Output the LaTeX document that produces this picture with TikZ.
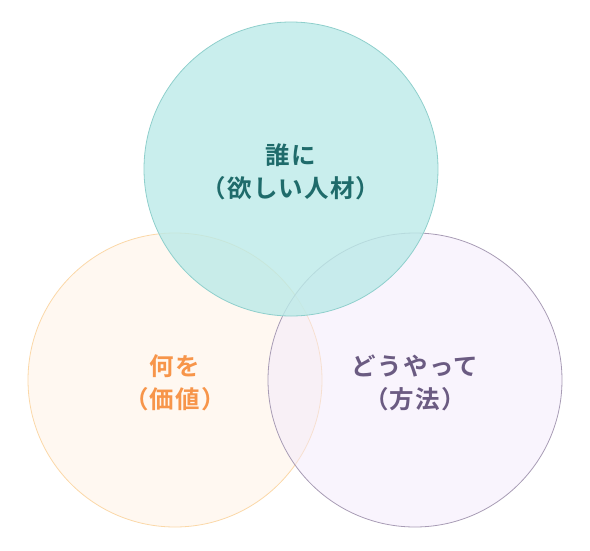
\documentclass[tikz,border=0pt]{standalone}
\usepackage{fontspec}
\usepackage{xcolor}
\usepackage{tikz}
\setmainfont{Noto Sans CJK JP}[BoldFont={* Bold}]
\definecolor{whoFill}{HTML}{BBEAE8}
\definecolor{whoLine}{HTML}{8FCFCC}
\definecolor{whoText}{HTML}{1F6B6B}
\definecolor{whatFill}{HTML}{FFF8F1}
\definecolor{whatLine}{HTML}{FBD8A8}
\definecolor{whatText}{HTML}{F7954A}
\definecolor{howFill}{HTML}{F3E9FB}
\definecolor{howLine}{HTML}{A89CB5}
\definecolor{howText}{HTML}{6B5B82}

\begin{document}
\begin{tikzpicture}[
    x=1pt, y=-1pt,
    setcircle/.style={circle, minimum size=294pt, inner sep=0pt, line width=0.8pt},
    setlabel/.style={align=center, font=\bfseries\fontsize{24.5}{33}\selectfont\addfontfeatures{LetterSpace=5}}
    ]
    \useasboundingbox (0,0) rectangle (590,550);
    \node[setcircle, draw=whatLine, fill=whatFill]                    (what) at (175,380) {};
    \node[setcircle, draw=howLine, fill=howFill, fill opacity=0.5]    (how)  at (415,380) {};
    \node[setcircle, draw=whoLine, fill=whoFill, fill opacity=0.8]    (who)  at (291,169) {};

    \node[setlabel, text=whoText]  (whoLabel)  at ([yshift=-3pt]who.center)  {誰に\\（欲しい人材）};
    \node[setlabel, text=whatText] (whatLabel) at ([yshift=-3pt]what.center) {何を\\（価値）};
    \node[setlabel, text=howText]  (howLabel)  at ([yshift=-3pt]how.center)  {どうやって\\（方法）};
\end{tikzpicture}
\end{document}
